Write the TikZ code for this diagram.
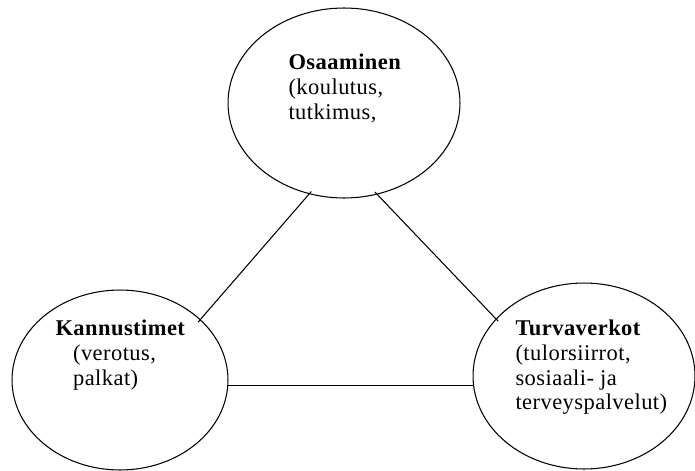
\documentclass[tikz,border=0pt]{standalone}
\usepackage{fontspec}
\setmainfont{Liberation Serif}[LetterSpace=2]
\usepackage{tikz}
\usetikzlibrary{shapes.geometric,positioning}

\begin{document}
\begin{tikzpicture}[x=0.02cm,y=-0.02cm,line width=0.6pt,
  field/.style={draw,ellipse,inner sep=0pt},
  txt/.style={anchor=north west,align=left,inner sep=0pt,
    font=\fontsize{12.8}{14.2}\selectfont},
  link/.style={shorten >=-2pt,shorten <=-2pt}]
  \useasboundingbox (0,0) rectangle (695,470);
  \node[field,minimum width=4.64cm,minimum height=3.8cm] (osa) at (344,103) {};
  \node[field,minimum width=4.32cm,minimum height=3.6cm] (kann) at (120,380) {};
  \node[field,minimum width=4.44cm,minimum height=3.72cm] (turva) at (584,376) {};
  \node[txt] (osatxt) at (288,53) {\textbf{Osaaminen}\\(koulutus,\\tutkimus,};
  \node[txt] (kanntxt) at (55,319) {\textbf{Kannustimet}\\\hspace*{10pt}(verotus,\\\hspace*{10pt}palkat)};
  \node[txt] (turvatxt) at (515,319) {\textbf{Turvaverkot}\\(tulorsiirrot,\\sosiaali- ja\\terveyspalvelut)};
  \path[link]
  (osa.249) edge (kann.37.5)
  (osa.290.4) edge (turva.147)
  ;
  \draw (kann.-3) -- (kann.-3 -| turva.west);
\end{tikzpicture}
\end{document}
